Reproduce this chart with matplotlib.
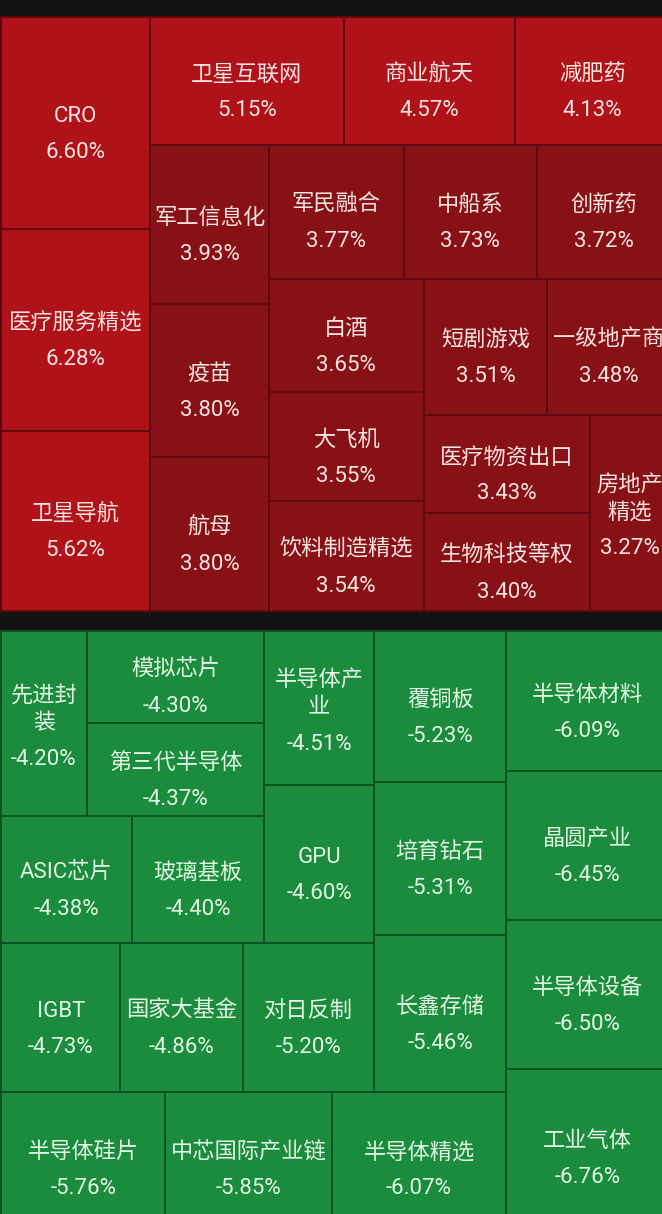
import matplotlib
matplotlib.use("Agg")
from matplotlib import pyplot as plt

plt.rcParams['font.family'] = ['Roboto', 'Noto Sans CJK SC', 'DejaVu Sans']

# sectors that went up (name, % change)
UP_NAMES = ["CRO", "医疗服务精选", "卫星导航", "卫星互联网", "商业航天", "减肥药",
            "军工信息化", "疫苗", "航母", "军民融合", "中船系", "创新药",
            "白酒", "大飞机", "饮料制造精选", "短剧游戏", "一级地产商",
            "医疗物资出口", "生物科技等权", "房地产\n精选"]
UP_VALUES = [6.60, 6.28, 5.62, 5.15, 4.57, 4.13, 3.93, 3.80, 3.80, 3.77, 3.73,
             3.72, 3.65, 3.55, 3.54, 3.51, 3.48, 3.43, 3.40, 3.27]

# sectors that went down
DOWN_NAMES = ["工业气体", "半导体设备", "晶圆产业", "半导体材料", "半导体精选",
              "中芯国际产业链", "半导体硅片", "长鑫存储", "培育钻石", "覆铜板",
              "对日反制", "国家大基金", "IGBT", "GPU", "半导体产\n业", "玻璃基板",
              "ASIC芯片", "第三代半导体", "模拟芯片", "先进封\n装"]
DOWN_VALUES = [-6.76, -6.50, -6.45, -6.09, -6.07, -5.85, -5.76, -5.46, -5.31,
               -5.23, -5.20, -4.86, -4.73, -4.60, -4.51, -4.40, -4.38, -4.37,
               -4.30, -4.20]

W, H = 662, 1214
BG = '#131313'
# the app's treemap is a bit wider than the screenshot, so its right
# (and for the losers also the bottom) edge is cut off
MAP_W, MAP_H = 669, 594
RATIO = 0.9675  # preferred cell aspect of the app's squarify


# --- squarified treemap, y grows downward ---
def layout(sizes, x, y, dx, dy):
    area = sum(sizes)
    rects = []
    if dx >= dy:
        width = area / dy
        for s in sizes:
            rects.append((x, y, width, s / width))
            y += s / width
    else:
        height = area / dx
        for s in sizes:
            rects.append((x, y, s / height, height))
            x += s / height
    return rects


def leftover(sizes, x, y, dx, dy):
    area = sum(sizes)
    if dx >= dy:
        width = area / dy
        return x + width, y, dx - width, dy
    height = area / dx
    return x, y + height, dx, dy - height


def worst_ratio(sizes, x, y, dx, dy):
    worst = 0
    for _, _, w, h in layout(sizes, x, y, dx, dy):
        along, thick = (h, w) if dx >= dy else (w, h)
        worst = max(worst, RATIO * along / thick, thick / (along * RATIO))
    return worst


def squarify(sizes, x, y, dx, dy):
    if len(sizes) == 0:
        return []
    if len(sizes) == 1:
        return layout(sizes, x, y, dx, dy)
    i = 1
    while i < len(sizes) and worst_ratio(sizes[:i], x, y, dx, dy) >= worst_ratio(sizes[:i + 1], x, y, dx, dy):
        i += 1
    cur, rest = sizes[:i], sizes[i:]
    return layout(cur, x, y, dx, dy) + squarify(rest, *leftover(cur, x, y, dx, dy))


def treemap(values, x0, y0, dx, dy, flip=False):
    total = sum(abs(v) for v in values)
    sizes = [abs(v) * dx * dy / total for v in values]
    rects = squarify(sizes, 0.0, 0.0, float(dx), float(dy))
    out = []
    for x, y, w, h in rects:
        if flip:
            x, y = dx - x - w, dy - y - h
        out.append((x0 + x, y0 + y, w, h))
    return out


def draw_block(ax, names, values, rects, color_fn, edge, txt):
    for name, v, (x, y, w, h) in zip(names, values, rects):
        ax.add_patch(plt.Rectangle((x, y), w, h, facecolor=color_fn(v),
                                   edgecolor=edge, lw=1.4))
        cx, cy = x + w / 2, y + h / 2
        n = name.count('\n') + 1
        # name lines 28px apart, percentage 36px under the last one
        span = 28 * (n - 1) + 36
        top = cy - span / 2 + (12 if n == 1 else 4)
        name_y = top + 14 * (n - 1)
        pct_y = top + span
        ax.text(cx, name_y, name, ha='center', va='center', color=txt,
                fontsize=16, linespacing=1.42)
        ax.text(cx, pct_y, f"{v:.2f}%", ha='center', va='center', color=txt,
                fontsize=16)


fig = plt.figure(figsize=(W / 100, H / 100), dpi=100, facecolor=BG)
ax = fig.add_axes([0, 0, 1, 1])
ax.set_xlim(0, W)
ax.set_ylim(H, 0)
ax.axis('off')
ax.set_facecolor(BG)

up_rects = treemap(UP_VALUES, 1, 17, MAP_W, MAP_H)
draw_block(ax, UP_NAMES, UP_VALUES, up_rects,
           lambda v: '#b01219' if v >= 4 else '#881117', '#5e0a0e', '#f9e5e0')

down_rects = treemap(DOWN_VALUES, 1, 631, MAP_W, MAP_H, flip=True)
draw_block(ax, DOWN_NAMES, DOWN_VALUES, down_rects,
           lambda v: '#1b8b3d', '#0c5222', '#e2f6e3')

fig.savefig('out.png', dpi=100, facecolor=BG)
